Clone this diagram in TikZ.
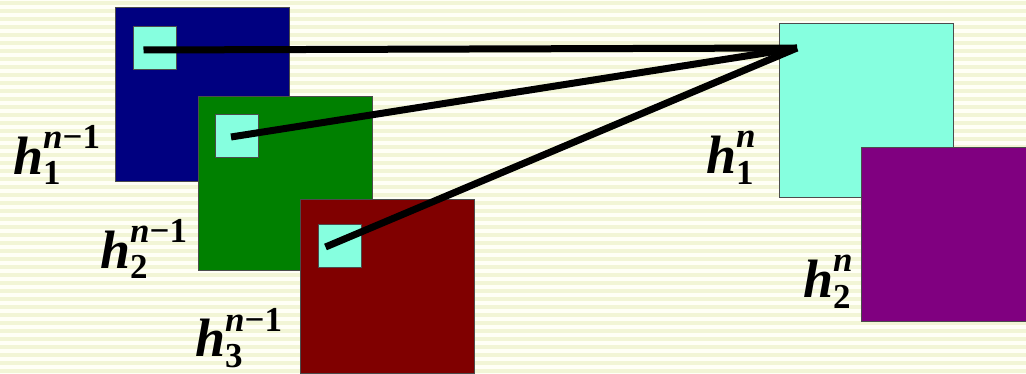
\documentclass[tikz,border=0pt]{standalone}
\usepackage{fontspec}
\setmainfont{Liberation Serif}[BoldFont={Liberation Serif Bold},BoldItalicFont={Liberation Serif Bold Italic},ItalicFont={Liberation Serif Italic}]
\usepackage{tikz}
\usetikzlibrary{calc,positioning}
\definecolor{fondo}{HTML}{FFFFF6}
\definecolor{raya}{HTML}{F2F5D6}
\definecolor{marino}{HTML}{000080}
\definecolor{verde}{HTML}{008000}
\definecolor{granate}{HTML}{800000}
\definecolor{aqua}{HTML}{86FFDF}
\definecolor{purpura}{HTML}{800080}
% h con subindice y superindice
\newcommand{\hlab}[2]{\rmfamily\bfseries\itshape h\makebox[0pt][l]{\raisebox{0.48em}{\fontsize{35}{35}\selectfont\itshape #2}}%
  \raisebox{-0.2em}{\fontsize{35}{35}\selectfont\upshape #1}\hphantom{\fontsize{35}{35}\selectfont #2}}
\tikzset{
  mapa/.style={draw=black!70,line width=0.8pt,minimum width=174pt,minimum height=174pt,inner sep=0pt},
  celda/.style={draw=black!70,line width=0.8pt,fill=aqua,minimum width=43pt,minimum height=43pt,inner sep=0pt},
  etiq/.style={font=\fontsize{54}{54}\selectfont,inner sep=0pt,anchor=west},
  enlace/.style={line width=7pt,black}
}
\begin{document}
\begin{tikzpicture}[x=1pt,y=-1pt]
        \useasboundingbox (0,0) rectangle (1026,374);
        \clip (0,0) rectangle (1026,374);
        % fondo rayado
        \fill[fondo] (0,0) rectangle (1026,374);
        \foreach \y in {0,8,...,368}{
          \fill[raya] (0,\y+1) rectangle (1026,\y+5);
        }
        % capa n-1
        \node[mapa,fill=marino]  (m1) at (202.5,94.5) {};
        \node[mapa,fill=verde]   (m2) at (285,183) {};
        \node[mapa,fill=granate] (m3) at (387.5,286) {};
        \node[celda] (c1) at (154.5,47.5) {};
        \node[celda] (c2) at (237,136) {};
        \node[celda] (c3) at (339.5,246) {};
        % capa n
        \node[mapa,fill=aqua]    (k1) at (866,110) {};
        \node[mapa,fill=purpura] (k2) at (948,234) {};
        % etiquetas
        \node[etiq] (e1) at (13,155)  {\hlab{1}{n\upshape −1}};
        \node[etiq] (e2) at (100,249) {\hlab{2}{n\upshape −1}};
        \node[etiq] (e3) at (195,338) {\hlab{3}{n\upshape −1}};
        \node[etiq] (f1) at (706,158) {\hlab{1}{n}};
        \node[etiq] (f2) at (803,282) {\hlab{2}{n}};
        % conexiones
        \coordinate (apex) at (797,48);
        \coordinate (p1) at ($(c1)+(-11,2.5)$);
        \coordinate (p2) at ($(c2)+(-6,1)$);
        \coordinate (p3) at ($(c3)+(-14,1)$);
        \foreach \p in {p1,p2,p3}{
          \draw[enlace] (\p) -- (apex);
        }
\end{tikzpicture}
\end{document}
